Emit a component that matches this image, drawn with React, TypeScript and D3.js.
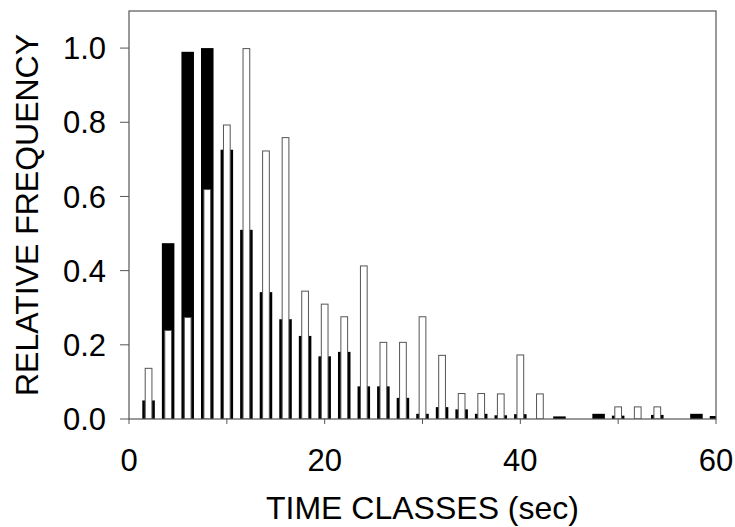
import React, { useEffect } from "react";
import * as d3 from "d3";

// time classes (sec), one pair of bars per class
const classes = [2, 4, 6, 8, 10, 12, 14, 16, 18, 20, 22, 24, 26, 28, 30, 32, 34, 36, 38, 40, 42, 44, 46, 48, 50, 52, 54, 56, 58, 60];
// wide black bars (drawn behind)
const blackFreq = [0.05, 0.474, 0.99, 1.0, 0.726, 0.51, 0.342, 0.269, 0.224, 0.169, 0.181, 0.088, 0.088, 0.057, 0.014, 0.032, 0.026, 0.014, 0.01, 0.013, 0, 0.007, 0, 0.014, 0.009, 0, 0.011, 0, 0.014, 0.008];
// narrow white bars (drawn in front)
const whiteFreq = [0.138, 0.24, 0.275, 0.62, 0.794, 1.0, 0.724, 0.76, 0.346, 0.311, 0.277, 0.414, 0.208, 0.208, 0.277, 0.173, 0.07, 0.07, 0.069, 0.174, 0.069, 0, 0, 0, 0.034, 0.034, 0.034, 0, 0, 0];
const xTicks = [0, 10, 20, 30, 40, 50, 60];
const xLabels = [0, 20, 40, 60];
const yTicks = [0, 0.2, 0.4, 0.6, 0.8, 1.0];

const W = 735;
const H = 527;
const left = 129;
const right = 716;
const top = 11;
const bottom = 419;
const font = "'Liberation Sans', Arial, sans-serif";
const axisColor = "#555";

export default function App() {
  useEffect(() => {
    document.body.style.margin = "0";
  }, []);

  const x = d3.scaleLinear().domain([0, 60]).range([left, right]);
  const y = d3.scaleLinear().domain([0, 1.1]).range([bottom, top]);

  const blackW = x(1.28) - x(0);
  const whiteW = x(0.79) - x(0);

  return (
    <svg width={W} height={H} style={{ display: "block", background: "#fff" }}>
      <defs>
        <clipPath id="plot">
          <rect x={left} y={top} width={right - left} height={bottom - top} />
        </clipPath>
      </defs>

      <g clipPath="url(#plot)">
        {classes.map((c, i) =>
          blackFreq[i] > 0 ? (
            <rect
              key={"b" + c}
              x={x(c) - blackW / 2}
              y={y(blackFreq[i])}
              width={blackW}
              height={y(0) - y(blackFreq[i])}
              fill="#000"
            />
          ) : null
        )}
        {classes.map((c, i) =>
          whiteFreq[i] > 0 ? (
            <rect
              key={"w" + c}
              x={x(c) - whiteW / 2 + 0.5}
              y={y(whiteFreq[i]) + 0.5}
              width={whiteW - 1}
              height={y(0) - y(whiteFreq[i]) - 0.5}
              fill="#fff"
              stroke="#555"
              strokeWidth={1}
            />
          ) : null
        )}
      </g>

      {/* frame */}
      <rect x={left} y={top} width={right - left} height={bottom - top} fill="none" stroke={axisColor} strokeWidth={1.2} />

      {/* x axis */}
      {xTicks.map((t) => (
        <line key={"xt" + t} x1={x(t)} x2={x(t)} y1={bottom} y2={bottom + 5} stroke={axisColor} strokeWidth={1} />
      ))}
      {xLabels.map((t) => (
        <text key={"xl" + t} x={x(t)} y={471} textAnchor="middle" fontFamily={font} fontSize={31} fill="#000">
          {t}
        </text>
      ))}
      <text x={(left + right) / 2} y={519} textAnchor="middle" fontFamily={font} fontSize={32} fill="#000">
        TIME CLASSES (sec)
      </text>

      {/* y axis */}
      {yTicks.map((t) => (
        <line key={"yt" + t} x1={left - 9} x2={left} y1={y(t)} y2={y(t)} stroke={axisColor} strokeWidth={1} />
      ))}
      {yTicks.map((t) => (
        <text
          key={"yl" + t}
          x={106}
          y={y(t)}
          dy="0.36em"
          textAnchor="end"
          fontFamily={font}
          fontSize={31}
          fill="#000"
        >
          {d3.format(".1f")(t)}
        </text>
      ))}
      <text
        transform={`translate(38,${(top + bottom) / 2}) rotate(-90)`}
        textAnchor="middle"
        fontFamily={font}
        fontSize={32}
        fill="#000"
      >
        RELATIVE FREQUENCY
      </text>
    </svg>
  );
}
